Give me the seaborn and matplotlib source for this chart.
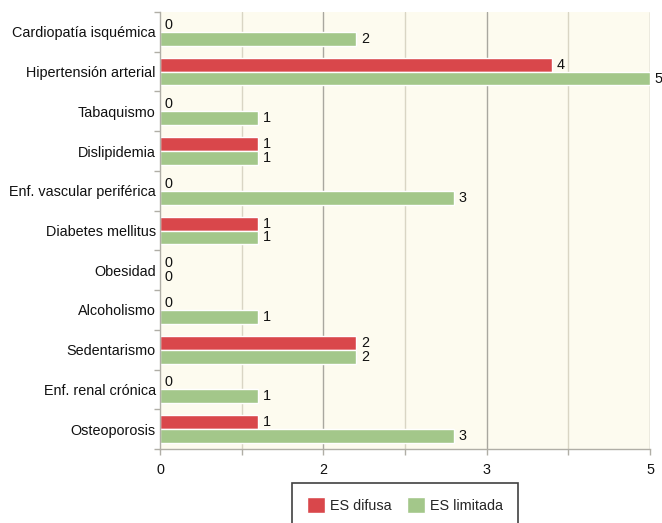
import matplotlib
matplotlib.use("Agg")
import matplotlib.pyplot as plt
import seaborn as sns
import pandas as pd
import numpy as np
from matplotlib.ticker import FixedLocator, FixedFormatter
from matplotlib.patches import Patch

categories = ["Cardiopatía isquémica", "Hipertensión arterial", "Tabaquismo", "Dislipidemia",
              "Enf. vascular periférica", "Diabetes mellitus", "Obesidad", "Alcoholismo",
              "Sedentarismo", "Enf. renal crónica", "Osteoporosis"]
es_difusa = [0, 4, 0, 1, 0, 1, 0, 0, 2, 0, 1]
es_limitada = [2, 5, 1, 1, 3, 1, 0, 1, 2, 1, 3]
series = ["ES difusa", "ES limitada"]
colors = ["#d9474b", "#a3c78a"]
major_ticks = [0, 5/3, 10/3, 5]
major_labels = ["0", "2", "3", "5"]
minor_ticks = [5/6, 2.5, 25/6]

df = pd.DataFrame({
    "cat": categories * 2,
    "val": es_difusa + es_limitada,
    "serie": [series[0]] * len(categories) + [series[1]] * len(categories),
})

sns.set_theme(style="white")
plt.rcParams["font.family"] = ["Liberation Sans", "DejaVu Sans"]
FS = 10.4

fig = plt.figure(figsize=(6.62, 5.23), dpi=100)
ax = fig.add_axes([160/662, 1-449/523, 490/662, 437/523])
ax.set_facecolor("#fdfbef")

sns.barplot(data=df, y="cat", x="val", hue="serie", palette=colors, orient="h",
            width=0.7, gap=0, ax=ax, legend=False, saturation=1, order=categories,
            hue_order=series)

for c in ax.containers:
    ax.bar_label(c, labels=[f"{int(v)}" for v in c.datavalues], padding=3.5,
                 fontsize=FS, color="#111111", clip_on=False)

ax.set_xlim(0, 5)
ax.set_ylim(len(categories) - 0.5, -0.5)
ax.xaxis.set_major_locator(FixedLocator(major_ticks))
ax.xaxis.set_major_formatter(FixedFormatter(major_labels))
ax.xaxis.set_minor_locator(FixedLocator(minor_ticks))
ax.grid(False)
for t in major_ticks[1:]:
    ax.axvline(t, color="#a9a79f", lw=1, zorder=0)
for t in minor_ticks:
    ax.axvline(t, color="#d9d5c4", lw=1, zorder=0)

ax.yaxis.set_minor_locator(FixedLocator(np.arange(-0.5, len(categories), 1)))
ax.tick_params(axis="y", which="major", length=0, labelsize=FS, pad=3, colors="#111111")
ax.tick_params(axis="y", which="minor", length=4, color="#b0aea6", width=1, left=True)
ax.tick_params(axis="x", which="both", length=4, color="#b0aea6", width=1, bottom=True,
               labelsize=FS, labelcolor="#111111", pad=6)
ax.set_xlabel("")
ax.set_ylabel("")
for s in ["top", "right"]:
    ax.spines[s].set_visible(False)
for s in ["left", "bottom"]:
    ax.spines[s].set_color("#b0aea6")
    ax.spines[s].set_linewidth(1)

handles = [Patch(facecolor=colors[0], label=series[0]), Patch(facecolor=colors[1], label=series[1])]
leg = fig.legend(handles=handles, loc="upper center", bbox_to_anchor=(405/662, 1-483/523),
                 ncol=2, frameon=True, fancybox=False, edgecolor="#111111", fontsize=FS,
                 handlelength=1.25, handleheight=1.25, handletextpad=0.4, columnspacing=1.0,
                 borderpad=1.0, borderaxespad=0)
leg.get_frame().set_linewidth(1.2)

fig.savefig("out.png", dpi=100)
